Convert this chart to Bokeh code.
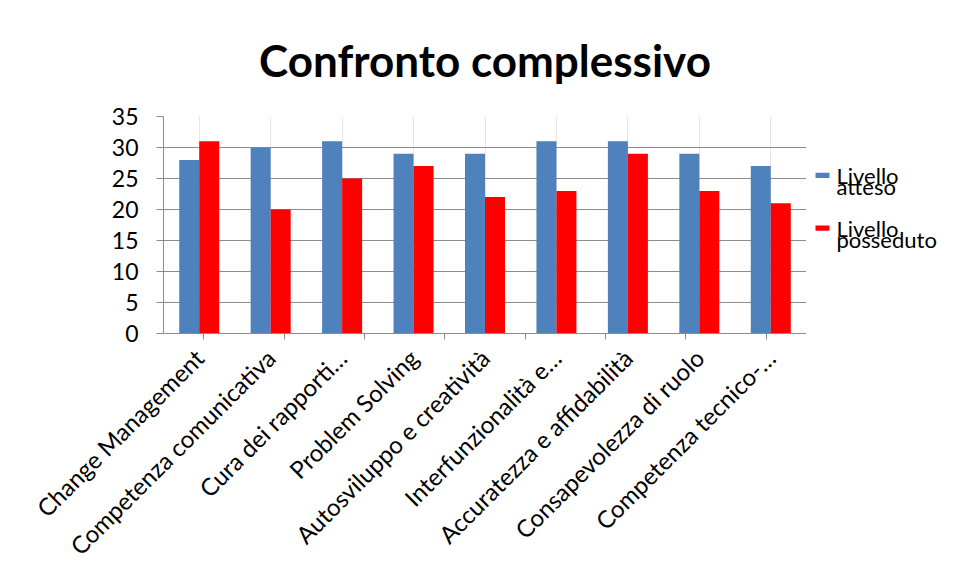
import math
from bokeh.plotting import figure
from bokeh.layouts import row
from bokeh.models import (FactorRange, ColumnDataSource, SingleIntervalTicker,
                          CategoricalAxis, Range1d)
from bokeh.core.properties import value
from bokeh.transform import dodge
from bokeh.embed import file_html
from bokeh.resources import INLINE

categories = ["Change Management", "Competenza comunicativa", "Cura dei rapporti…",
              "Problem Solving", "Autosviluppo e creatività", "Interfunzionalità e…",
              "Accuratezza e affidabilità", "Consapevolezza di ruolo", "Competenza tecnico-…"]
atteso = [28, 30, 31, 29, 29, 31, 31, 29, 27]
posseduto = [31, 20, 25, 27, 22, 23, 29, 23, 21]
legend_lines = [["Livello", "atteso"], ["Livello", "posseduto"]]
colors = ["#4F81BD", "#FF0000"]

FONT = "Lato"
GRAY = "#8C8C8C"

src = ColumnDataSource(dict(cat=categories, atteso=atteso, posseduto=posseduto))

p = figure(width=806, height=579, x_range=FactorRange(*categories, range_padding=0),
           y_range=(0, 35), output_backend="svg", toolbar_location=None,
           x_axis_location=None,
           min_border_left=163, min_border_right=0, min_border_top=0,
           min_border_bottom=246, title="Confronto complessivo")

p.vbar(x=dodge("cat", -0.14, range=p.x_range), top="atteso", width=0.28,
       source=src, fill_color=colors[0], line_color=None)
p.vbar(x=dodge("cat", 0.14, range=p.x_range), top="posseduto", width=0.28,
       source=src, fill_color=colors[1], line_color=None)

p.title.text_font = FONT
p.title.text_font_size = "44px"
p.title.text_font_style = "bold"
p.title.align = "center"
p.title.text_color = "black"
p.title.standoff = 62
p.title.offset = 0

p.outline_line_color = None
p.ygrid.grid_line_color = GRAY
p.ygrid.grid_line_width = 1
p.yaxis.ticker = SingleIntervalTicker(interval=5)
p.yaxis.minor_tick_line_color = None
p.yaxis.major_tick_in = 0
p.yaxis.major_tick_out = 7
p.yaxis.axis_line_color = GRAY
p.yaxis.major_tick_line_color = GRAY
p.yaxis.major_label_text_font = FONT
p.yaxis.major_label_text_font_size = "23px"
p.yaxis.major_label_text_color = "black"
p.yaxis.major_label_standoff = 18

# boundary ticks between categories: a factor range whose factor centres fall on boundaries
bounds = [f"b{i}" for i in range(len(categories) + 1)]
p.extra_x_ranges = {"bounds": FactorRange(*bounds, range_padding=-1,
                                          range_padding_units="absolute")}
tick_axis = CategoricalAxis(x_range_name="bounds")
tick_axis.axis_line_color = GRAY
tick_axis.major_tick_line_color = GRAY
tick_axis.major_tick_in = 0
tick_axis.major_tick_out = 6
tick_axis.minor_tick_line_color = None
tick_axis.major_label_text_font_size = "0px"
tick_axis.major_label_text_alpha = 0
tick_axis.major_label_standoff = 0
p.add_layout(tick_axis, "below")

cat_axis = CategoricalAxis()
cat_axis.axis_line_color = None
cat_axis.major_tick_line_color = None
cat_axis.minor_tick_line_color = None
cat_axis.major_label_orientation = math.pi / 4
cat_axis.major_label_text_font = FONT
cat_axis.major_label_text_font_size = "24px"
cat_axis.major_label_text_color = "black"
cat_axis.major_label_standoff = 8
p.add_layout(cat_axis, "below")

# legend panel to the right of the chart (pixel-like coordinates, y downwards)
q = figure(width=150, height=579, output_backend="svg", toolbar_location=None,
           x_axis_location=None, y_axis_location=None,
           x_range=Range1d(0, 150), y_range=Range1d(579, 0), min_border=0)
q.outline_line_color = None
q.grid.grid_line_color = None

LEG_X, SWATCH, GAP, FIRST_Y, LINE, GROUP = 9, 14, 7, 157, 29, 141
sw_y = [FIRST_Y + i * GROUP for i in range(len(legend_lines))]
q.rect(x=[LEG_X + SWATCH / 2] * len(sw_y), y=sw_y, width=SWATCH, height=SWATCH,
       fill_color=colors, line_color=None)
tx, ty, tt = [], [], []
for i, lines in enumerate(legend_lines):
    for j, t in enumerate(lines):
        tx.append(LEG_X + SWATCH + GAP)
        ty.append(sw_y[i] + j * LINE)
        tt.append(t)
q.text(x=tx, y=ty, text=tt, text_font=value(FONT), text_font_size="22px",
       text_baseline="middle", text_align="left", text_color="black")

layout = row(p, q)
open("out.html", "w").write(file_html(layout, INLINE))
